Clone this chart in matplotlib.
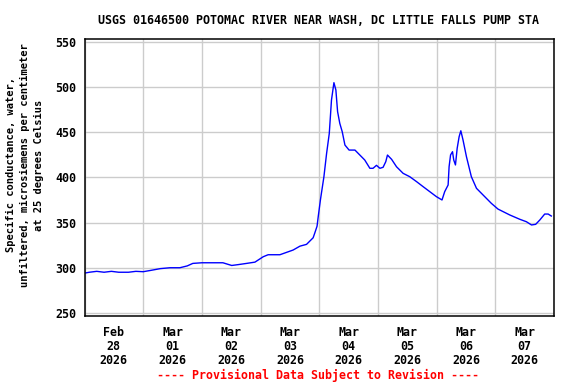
import matplotlib
matplotlib.use("Agg")
import matplotlib.pyplot as plt
import matplotlib.dates as mdates
import pandas as pd

# hours after 2026-02-28 00:00 and specific conductance (uS/cm)
hours = [0, 2, 5, 8, 11, 14, 18, 21, 24, 27, 31, 35, 39, 42, 44.3, 48, 52,
         56.6, 60.2, 63, 66.3, 69.7, 73.1, 75.1, 79.9, 85.3, 88.1, 90.8, 93.5,
         94.2, 95.1, 95.6, 96.5, 97.9, 99, 100.1, 101, 102, 102.8, 103.5,
         104.4, 105.4, 106.5, 108.2, 110.6, 112.6, 114.6, 116.7, 118, 119.4,
         120.8, 122.1, 123.2, 123.9, 125.6, 127.6, 130.3, 133, 135.8, 138.5,
         141.2, 143.9, 146.2, 147.3, 148.7, 149.1, 149.7, 150.5, 151, 151.7,
         152.4, 153.2, 153.9, 154.8, 156.2, 158.2, 160.3, 163, 166.4, 169.1,
         173.9, 178, 180.7, 182.8, 184.5, 186.2, 188.2, 189.6, 190.9]
values = [294, 295, 296, 295, 296, 295, 295, 296, 295.6, 297, 299, 300, 300,
          302, 304.8, 305.5, 305.5, 305.5, 302.5, 303.5, 304.8, 306.2, 312.2,
          314.4, 314.4, 319.6, 323.9, 325.9, 333.2, 338.7, 346, 357, 375.6,
          400.7, 426.6, 448.8, 485.8, 505.1, 497, 473, 460, 450.7, 436, 430.4,
          430.4, 424.9, 419.4, 410.2, 410.2, 413.5, 410.2, 411.3, 417.5, 424.9,
          420.1, 411.9, 404.6, 400.9, 395.4, 389.8, 384.3, 378.8, 375.1, 384.3,
          391.7, 412, 425, 428.6, 419.4, 413.9, 432.3, 445.2, 451.8, 441.5,
          423, 400.9, 388, 380.6, 371.3, 365, 358.5, 353.7, 351, 347.4, 348.1,
          352.9, 359.5, 359.5, 357.3]
y_ticks = [250, 300, 350, 400, 450, 500, 550]

title = "USGS 01646500 POTOMAC RIVER NEAR WASH, DC LITTLE FALLS PUMP STA"
ylabel = ("Specific conductance, water,\n"
          "unfiltered, microsiemens per centimeter\n"
          "at 25 degrees Celsius")
footer = "---- Provisional Data Subject to Revision ----"

start = pd.Timestamp("2026-02-28")
times = start + pd.to_timedelta(hours, unit="h")

plt.rcParams['font.family'] = 'DejaVu Sans Mono'
plt.rcParams['font.weight'] = 'bold'

fig = plt.figure(figsize=(5.76, 3.84), dpi=100)
ax = fig.add_axes([84.5 / 576, 1 - 316 / 384, 469.5 / 576, 277 / 384])

ax.plot(times, values, color='#0000ff', lw=1.0)

ax.set_xlim(start, start + pd.Timedelta(days=8))
ax.set_ylim(246.5, 553.5)
ax.set_yticks(y_ticks)

ax.xaxis.set_major_locator(mdates.HourLocator(byhour=12))
ax.xaxis.set_major_formatter(mdates.DateFormatter('%b\n%d\n%Y'))
ax.xaxis.set_minor_locator(mdates.DayLocator())

ax.grid(True, which='minor', axis='x', color='#cccccc', lw=1)
ax.grid(True, which='major', axis='y', color='#cccccc', lw=1)
ax.set_axisbelow(True)
ax.tick_params(which='both', length=0)
ax.tick_params(axis='x', pad=7, labelsize=8.4)
ax.tick_params(axis='y', pad=6, labelsize=8.4)
for lbl in ax.get_xticklabels():
    lbl.set_linespacing(1.1)
for sp in ax.spines.values():
    sp.set_linewidth(1.1)

fig.text(319 / 576, 1 - 20 / 384, title, ha='center', va='center',
         fontsize=8.4, fontweight='bold')
fig.text(25 / 576, 1 - 165 / 384, ylabel, rotation=90, ha='center',
         va='center', multialignment='center', fontsize=7.5,
         fontweight='bold', linespacing=1.45)
fig.text(318 / 576, 1 - 375 / 384, footer, ha='center', va='center',
         fontsize=8.4, fontweight='bold', color='red')

fig.savefig('out.png', dpi=100)
